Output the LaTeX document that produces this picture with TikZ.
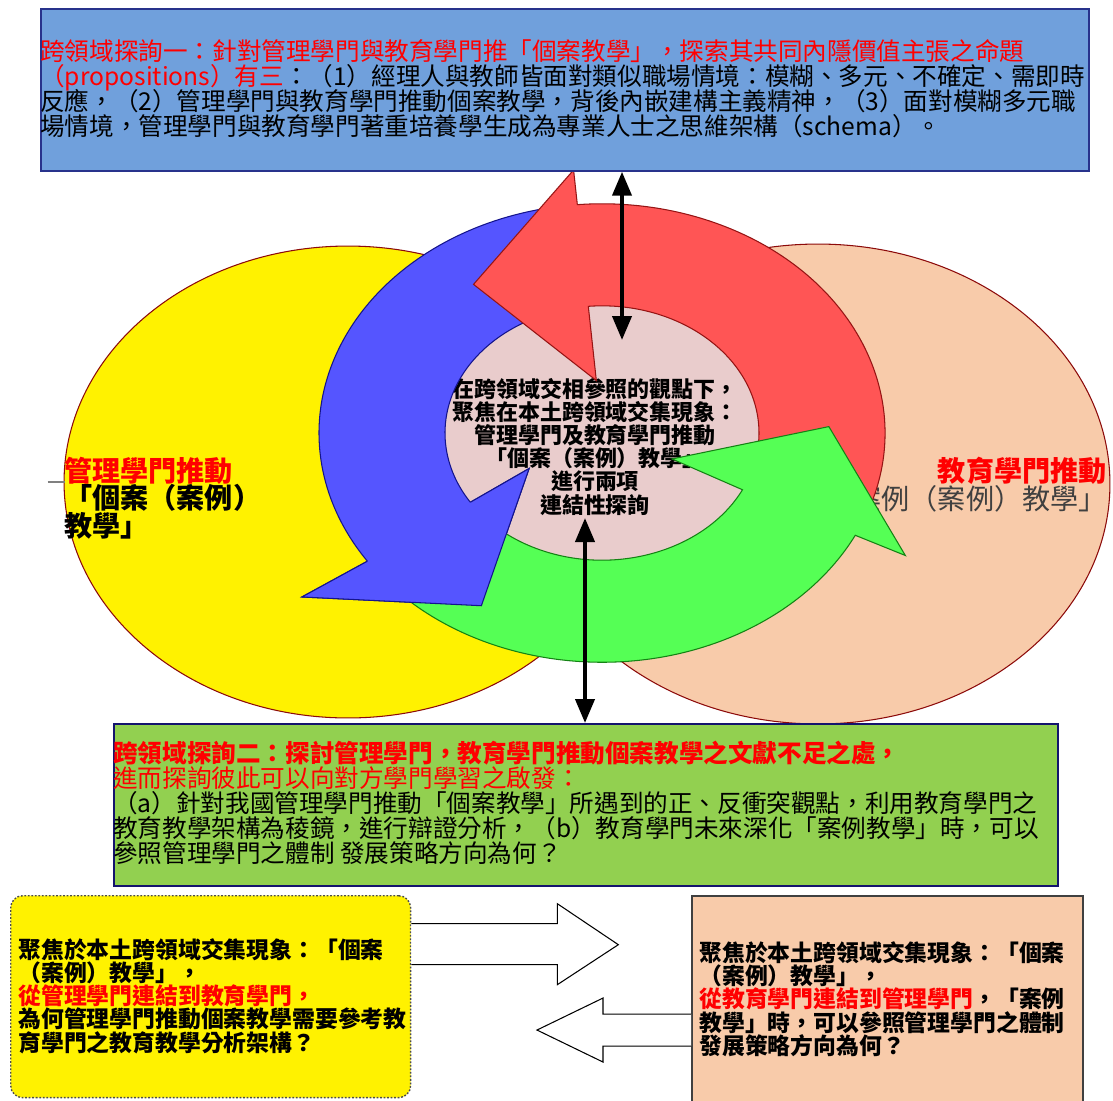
\documentclass[tikz,border=0pt]{standalone}
\usepackage{fontspec}
\setmainfont{Noto Sans CJK TC}
\usetikzlibrary{shapes.geometric,arrows.meta}
\definecolor{skyfill}{RGB}{112,160,220}
\definecolor{skyedge}{RGB}{40,50,140}
\definecolor{leaf}{RGB}{146,208,80}
\definecolor{navyedge}{RGB}{20,20,110}
\definecolor{peach}{RGB}{248,203,170}
\definecolor{wine}{RGB}{140,10,10}
\definecolor{hotred}{RGB}{255,0,0}
\definecolor{graytext}{RGB}{64,64,64}
\definecolor{redfill}{RGB}{255,85,85}
\definecolor{rededge}{RGB}{150,20,20}
\definecolor{bluefill}{RGB}{85,85,255}
\definecolor{blueedge}{RGB}{20,20,140}
\definecolor{greenfill}{RGB}{85,255,85}
\definecolor{greenedge}{RGB}{20,130,20}
\definecolor{disk}{RGB}{233,204,204}
\lineskiplimit=-100pt
\begin{document}
\begin{tikzpicture}[x=0.02cm,y=-0.02cm]
  \tikzset{zone/.style={ellipse,draw=wine,line width=0.6pt,inner sep=0pt},
    panel/.style={rectangle,anchor=north west,inner sep=0pt,line width=1pt},
    note/.style={align=left,inner sep=0pt,anchor=base west,font=\fontsize{14}{14.2}\selectfont},
    ask/.style={note,font=\fontsize{13}{13.1}\selectfont\bfseries},
    tag/.style={inner sep=0pt,font=\fontsize{16}{16}\selectfont\bfseries},
    link/.style={{Triangle[length=0.48cm,width=0.38cm]}-{Triangle[length=0.48cm,width=0.38cm]},line width=2.3pt},
    slab/.style={draw,fill=white,line width=0.6pt},
    seg/.style={line width=0.6pt}}
  \useasboundingbox (0,0) rectangle (1113,1100);

  \node[zone,fill=yellow,minimum width=11.36cm,minimum height=9.44cm] (mgmt) at (348,482) {};
  \node[zone,fill=peach,minimum width=11.68cm,minimum height=9.6cm] (edu) at (818,484) {};
  \draw[gray,line width=0.8pt] (mgmt.west) ++(-16,0) -- ++(17,0);
  \node[tag,text=hotred,anchor=base west] (mgmtlbl) at (64,481) {管理學門推動};
  \node[tag,anchor=base west,align=left,font=\fontsize{16}{15.4}\selectfont\bfseries] (mgmtsub) at (64,536) {「個案（案例）\\教學」};
  \node[tag,text=hotred,anchor=base east] (edulbl) at (1107,481) {教育學門推動};
  \node[tag,anchor=base east,text=graytext,font=\fontsize{16}{16}\selectfont] (edusub) at (1107,509) {「案例（案例）教學」};

  \node[ellipse,fill=disk,inner sep=0pt,minimum width=6.28cm,minimum height=5.08cm] (hub) at (602,433) {};
  \node[align=center,inner sep=0pt,anchor=base,font=\fontsize{12.5}{13.1}\selectfont\bfseries] (core) at (595,513)
  {在跨領域交相參照的觀點下，\\聚焦在本土跨領域交集現象：\\管理學門及教育學門推動\\「個案（案例）教學」\\進行兩項\\連結性探詢};

  \begin{scope}[shift={(hub.center)},yscale=-0.81]
    \draw[seg,draw=blueedge,fill=bluefill] (100:283) arc[start angle=100,end angle=214,radius=283] -- (214:362) -- (240.5:245) -- (211:85) -- (213:157) arc[start angle=213,end angle=100,radius=157] -- cycle;
    \draw[seg,draw=rededge,fill=redfill] (-22:283) arc[start angle=-22,end angle=95,radius=283] -- (95:326) -- (125:224) -- (95:65) -- (95:157) arc[start angle=95,end angle=-22,radius=157] -- cycle;
    \draw[seg,draw=greenedge,fill=greenfill] (216:283) arc[start angle=216,end angle=333.5,radius=283] -- (333.5:339) -- (362:227) -- (335.4:77) -- (333.5:157) arc[start angle=333.5,end angle=216,radius=157] -- cycle;
    \fill[bluefill] (214:283) -- (214:362) -- (240.5:245) -- (211:85) -- (213:157) -- cycle;
    \draw[seg,draw=blueedge] (214:283) -- (214:362) -- (240.5:245) -- (211:85) -- (213:157);
  \end{scope}

  \node[panel,draw=skyedge,fill=skyfill,minimum width=20.96cm,minimum height=3.24cm] (topbox) at (40,8) {};
  \node[note] (inq1) at (40,135) {\textcolor{hotred}{跨領域探詢一：針對管理學門與教育學門推「個案教學」，探索其共同內隱價值主張之命題}\\\textcolor{hotred}{（propositions）有三}：（1）經理人與教師皆面對類似職場情境：模糊、多元、不確定、需即時\\反應，（2）管理學門與教育學門推動個案教學，背後內嵌建構主義精神，（3）面對模糊多元職\\場情境，管理學門與教育學門著重培養學生成為專業人士之思維架構（schema）。};

  \node[panel,draw=navyedge,fill=leaf,minimum width=18.88cm,minimum height=3.24cm] (inq2box) at (113,723) {};
  \node[note] (inq2) at (113,862) {\textcolor{hotred}{\bfseries 跨領域探詢二：探討管理學門，教育學門推動個案教學之文獻不足之處，}\\\textcolor{hotred}{進而探詢彼此可以向對方學門學習之啟發：}\\（a）針對我國管理學門推動「個案教學」所遇到的正、反衝突觀點，利用教育學門之\\教育教學架構為稜鏡，進行辯證分析，（b）教育學門未來深化「案例教學」時，可以\\參照管理學門之體制 發展策略方向為何？};

  \node[panel,draw=black!70,fill=yellow,rounded corners=0.24cm,dash pattern=on 1pt off 1pt,line width=0.8pt,minimum width=8cm,minimum height=4.04cm] (mgmtq) at (10,895) {};
  \node[ask] (mgmtqt) at (18,1051) {聚焦於本土跨領域交集現象：「個案\\（案例）教學」，\\\textcolor{hotred}{從管理學門連結到教育學門，}\\為何管理學門推動個案教學需要參考教\\育學門之教育教學分析架構？};

  \node[panel,draw=black!75,fill=peach,line width=1.2pt,minimum width=7.82cm,minimum height=4.4cm] (eduq) at (691,895) {};
  \node[ask] (eduqt) at (699,1054) {聚焦於本土跨領域交集現象：「個案\\（案例）教學」，\\\textcolor{hotred}{從教育學門連結到管理學門}，「案例\\教學」時，可以參照管理學門之體制\\發展策略方向為何？};

  \coordinate (tiptop) at (622,340);
  \coordinate (tipbot) at (585,518);
  \draw[link] (tiptop |- topbox.south) -- (tiptop);
  \draw[link] (tipbot) -- (tipbot |- inq2box.north);

  \draw[slab] (mgmtq.east) ++(0,-73) -- ++(146,0) -- ++(0,-20) -- ++(61,41) -- ++(-61,40) -- ++(0,-20) -- ++(-146,0);
  \draw[slab] (eduq.west) ++(0,8) -- ++(-88,0) -- ++(0,-16) -- ++(-66,32) -- ++(66,32) -- ++(0,-16) -- ++(88,0);
\end{tikzpicture}
\end{document}
